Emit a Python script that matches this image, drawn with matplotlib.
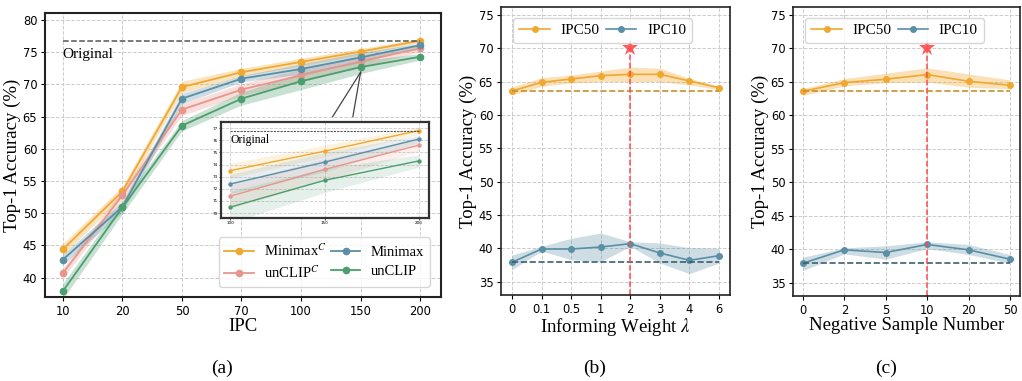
import matplotlib
matplotlib.use("Agg")
import matplotlib.pyplot as plt
import numpy as np

# ---------------- data ----------------
ipc_labels = ["10", "20", "50", "70", "100", "150", "200"]
minimax_c = [44.4, 53.4, 69.6, 71.9, 73.5, 75.1, 76.8]
minimax = [42.8, 51.0, 67.8, 70.9, 72.4, 74.2, 76.1]
unclip_c = [40.7, 52.8, 66.1, 69.2, 71.4, 73.6, 75.6]
unclip = [37.9, 50.9, 63.6, 67.8, 70.5, 72.7, 74.3]
minimax_c_err = [0.9, 0.8, 0.9, 0.6, 0.6, 0.5, 0.3]
minimax_err = [0.8, 0.8, 0.8, 0.5, 0.8, 0.8, 0.3]
unclip_c_err = [0.8, 0.8, 0.9, 0.9, 1.0, 0.9, 0.5]
unclip_err = [1.2, 1.0, 0.8, 1.0, 1.3, 1.0, 0.5]
original_acc = 76.8
inset_ipc = [100, 150, 200]

lam_labels = ["0", "0.1", "0.5", "1", "2", "3", "4", "6"]
lam_ipc50 = [63.6, 64.9, 65.4, 65.9, 66.1, 66.1, 65.1, 64.1]
lam_ipc50_lo = [63.0, 64.3, 64.8, 65.0, 65.0, 65.0, 64.5, 63.8]
lam_ipc50_hi = [64.2, 65.6, 66.0, 66.6, 67.2, 67.0, 65.5, 64.3]
lam_ipc10 = [37.9, 39.9, 39.9, 40.2, 40.7, 39.3, 38.2, 38.9]
lam_ipc10_lo = [36.8, 39.6, 38.3, 38.0, 40.3, 37.8, 36.2, 37.8]
lam_ipc10_hi = [39.0, 40.3, 41.5, 42.3, 41.0, 40.8, 40.1, 40.0]

neg_labels = ["0", "2", "5", "10", "20", "50"]
neg_ipc50 = [63.6, 64.9, 65.4, 66.1, 65.1, 64.5]
neg_ipc50_lo = [63.0, 64.4, 64.9, 65.0, 64.2, 64.0]
neg_ipc50_hi = [64.0, 65.5, 66.3, 67.1, 66.2, 65.3]
neg_ipc10 = [37.9, 39.9, 39.5, 40.7, 39.9, 38.5]
neg_ipc10_lo = [36.8, 39.3, 38.5, 40.1, 39.2, 37.9]
neg_ipc10_hi = [38.8, 40.2, 40.5, 41.1, 40.7, 39.2]

best_lam_idx = 4
best_neg_idx = 3
star_y = 70

# ---------------- style ----------------
C_OR = "#F0A830"
C_BL = "#5A8FA5"
C_PK = "#E8968B"
C_GR = "#4C9E6E"
C_OR_D = "#C8902E"
C_BL_D = "#3D5E70"
C_RED = "#FF4A4A"
SERIF = ["Liberation Serif", "DejaVu Serif"]
TICK_FS = 8.3
LABEL_FS = 13.5

plt.rcParams["font.family"] = ["DejaVu Sans"]
plt.rcParams["mathtext.fontset"] = "stix"

fig = plt.figure(figsize=(10.22, 3.81), dpi=100)
axa = fig.add_axes([0.044, 0.2205, 0.3875, 0.7454])
axb = fig.add_axes([0.4902, 0.2257, 0.2241, 0.7559])
axc = fig.add_axes([0.7759, 0.2231, 0.2221, 0.7585])


def style_axes(ax, lw=1.3):
    ax.grid(True, linestyle="--", color="#cccccc", linewidth=0.7)
    ax.set_axisbelow(True)
    for s in ax.spines.values():
        s.set_linewidth(lw)
        s.set_color("#222222")
    ax.tick_params(labelsize=TICK_FS, length=3, width=0.8, pad=2.5)


# ---------------- panel (a) ----------------
xa = np.arange(len(ipc_labels))
series = [
    (minimax_c, minimax_c_err, C_OR, "Minimax$^C$"),
    (unclip_c, unclip_c_err, C_PK, "unCLIP$^C$"),
    (minimax, minimax_err, C_BL, "Minimax"),
    (unclip, unclip_err, C_GR, "unCLIP"),
]
for vals, err, col, lab in series:
    v = np.array(vals); e = np.array(err)
    axa.fill_between(xa, v - e, v + e, color=col, alpha=0.3, linewidth=0)
    axa.plot(xa, v, "-o", color=col, lw=1.3, ms=4.5, label=lab)
axa.plot([xa[0], xa[-1]], [original_acc, original_acc], "--", color="#555555", lw=1.1)
axa.text(xa[0], 74.7, "Original", fontsize=11, family=SERIF, va="center", ha="left")
axa.set_xticks(xa)
axa.set_xticklabels(ipc_labels)
axa.set_xlim(-0.3, 6.35)
axa.set_ylim(37, 81.1)
axa.set_yticks(range(40, 81, 5))
axa.set_xlabel("IPC", fontsize=LABEL_FS, family=SERIF, labelpad=0)
axa.set_ylabel("Top-1 Accuracy (%)", fontsize=LABEL_FS, family=SERIF, labelpad=1)
style_axes(axa, lw=1.5)
# connector lines
axa.plot([5, 4.53], [71.9, 65.0], color="#444444", lw=0.9, zorder=5)
axa.plot([5, 4.87], [71.9, 65.0], color="#444444", lw=0.9, zorder=5)
leg = axa.legend(loc="lower right", ncol=2, prop={"family": SERIF, "size": 10.5},
                 frameon=True, fancybox=True, framealpha=0.8, borderpad=0.4,
                 handlelength=2.0, columnspacing=0.3, handletextpad=0.7,
                 labelspacing=0.35, bbox_to_anchor=(0.99, 0.01))

# inset
axi = fig.add_axes([0.2162, 0.4278, 0.2035, 0.252])
for vals, err, col, lab in series:
    v = np.array(vals[4:]); e = np.array(err[4:])
    axi.fill_between(inset_ipc, v - e, v + e, color=col, alpha=0.15, linewidth=0)
    axi.plot(inset_ipc, v, "-o", color=col, lw=1.0, ms=2.2)
axi.plot([inset_ipc[0], inset_ipc[-1]], [original_acc, original_acc], linestyle=(0, (2, 1)),
         color="#555555", lw=0.8)
axi.text(inset_ipc[0], 76.0, "Original", fontsize=8.5, family=SERIF, va="center", ha="left")
axi.set_xlim(95, 205.3)
axi.set_ylim(69.6, 77.5)
axi.set_xticks(inset_ipc)
axi.set_yticks(range(70, 78))
axi.grid(True, linestyle="--", color="#cccccc", linewidth=0.6)
axi.set_axisbelow(True)
axi.tick_params(labelsize=3, length=1.5, width=0.5, pad=1)
for s in axi.spines.values():
    s.set_linewidth(1.6)
    s.set_color("#333333")


# ---------------- panels (b), (c) ----------------
def ablation(ax, labels, y50, lo50, hi50, y10, lo10, hi10, best_idx, xlabel, ylabel):
    x = np.arange(len(labels))
    ax.fill_between(x, lo50, hi50, color=C_OR, alpha=0.35, linewidth=0)
    ax.fill_between(x, lo10, hi10, color=C_BL, alpha=0.3, linewidth=0)
    ax.plot(x, y50, "-o", color=C_OR, lw=1.2, ms=4, label="IPC50")
    ax.plot(x, y10, "-o", color=C_BL, lw=1.2, ms=4, label="IPC10")
    ax.plot([x[0], x[-1]], [y50[0], y50[0]], "--", color=C_OR_D, lw=1.2)
    ax.plot([x[0], x[-1]], [y10[0], y10[0]], "--", color=C_BL_D, lw=1.2)
    ax.plot([x[best_idx], x[best_idx]], [33, star_y], "--", color=C_RED, lw=1.1)
    ax.plot([x[best_idx]], [star_y], marker="*", color=C_RED, ms=12, alpha=0.9,
            markeredgewidth=0)
    ax.set_xticks(x)
    ax.set_xticklabels(labels)
    ax.set_ylim(33, 76.2)
    ax.set_yticks(range(35, 76, 5))
    ax.set_xlabel(xlabel, fontsize=LABEL_FS, family=SERIF, labelpad=0)
    if ylabel:
        ax.set_ylabel(ylabel, fontsize=LABEL_FS, family=SERIF, labelpad=1)
    style_axes(ax, lw=1.2)
    ax.legend(loc="upper left", ncol=2, prop={"family": SERIF, "size": 11},
              frameon=True, fancybox=True, framealpha=0.8, borderpad=0.4,
              handlelength=2.0, columnspacing=0.4, handletextpad=0.7,
              bbox_to_anchor=(0.02, 0.99))
    return x


xb = ablation(axb, lam_labels, lam_ipc50, lam_ipc50_lo, lam_ipc50_hi,
              lam_ipc10, lam_ipc10_lo, lam_ipc10_hi, best_lam_idx,
              "Informing Weight $\\lambda$", "Top-1 Accuracy (%)")
axb.set_xlim(-0.37, 7.37)
xc = ablation(axc, neg_labels, neg_ipc50, neg_ipc50_lo, neg_ipc50_hi,
              neg_ipc10, neg_ipc10_lo, neg_ipc10_hi, best_neg_idx,
              "Negative Sample Number", "Top-1 Accuracy (%)")
axc.set_xlim(-0.24, 5.24)

# captions
for xpos, t in [(222, "(a)"), (595, "(b)"), (886, "(c)")]:
    fig.text(xpos / 1022, 1 - 368 / 381, t, fontsize=14, family=SERIF,
             ha="center", va="center")

fig.savefig("out.png", dpi=100)
